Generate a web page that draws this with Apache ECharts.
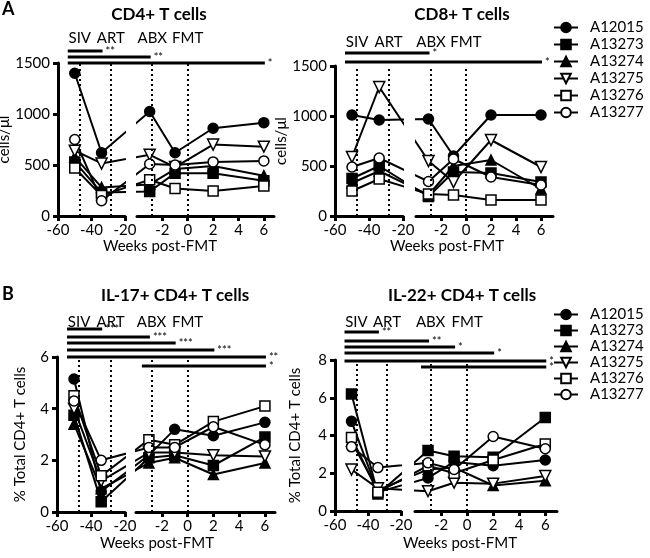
<!DOCTYPE html>
<html>
<head>
<meta charset="utf-8">
<script src="https://cdn.jsdelivr.net/npm/echarts@6/dist/echarts.min.js"></script>
<style>body{margin:0;background:#fff;}</style>
</head>
<body>
<div id="main" style="width:650px;height:558px;"></div>
<script type="text/javascript">
var weeks = [-50, -34, -3, -1, 2, 6];
var animals = ['A12015', 'A13273', 'A13274', 'A13275', 'A13276', 'A13277'];
var phaseNames = ['SIV', 'ART', 'ABX', 'FMT'];
var phaseWeeks = [-47, -28.5, -2.8, 0];
var leftTicks = [-60, -40, -20];
var rightTicks = [-2, 0, 2, 4, 6];

// one row per animal, one column per week
var cd4Counts = [
	[1400, 620, 1025, 620, 860, 915],
	[530, 230, 240, 420, 420, 345],
	[580, 280, 310, 460, 490, 395],
	[640, 515, 600, 480, 700, 680],
	[470, 200, 355, 270, 245, 295],
	[750, 150, 510, 500, 530, 540]
];
var cd8Counts = [
	[1010, 960, 970, 600, 1010, 1010],
	[375, 500, 195, 440, 430, 340],
	[330, 450, 210, 500, 560, 270],
	[590, 1290, 550, 340, 760, 490],
	[250, 370, 220, 210, 160, 160],
	[490, 580, 345, 570, 390, 310]
];
var il17Pct = [
	[5.15, 0.8, 2.2, 3.2, 2.95, 3.47],
	[3.75, 0.4, 2.1, 2.2, 1.8, 2.9],
	[3.4, 0.9, 1.9, 2.1, 1.45, 1.9],
	[4.0, 1.2, 2.3, 2.3, 2.2, 2.15],
	[4.5, 1.4, 2.8, 2.6, 3.5, 4.1],
	[4.3, 2.0, 2.5, 2.5, 3.3, 2.6]
];
var il22Pct = [
	[4.75, 1.0, 1.75, 2.6, 2.4, 2.7],
	[6.2, 0.9, 3.2, 2.9, 2.85, 4.95],
	[3.7, 1.1, 2.2, 2.3, 1.35, 1.6],
	[2.2, 1.2, 1.05, 1.5, 1.45, 1.85],
	[3.9, 1.0, 2.4, 2.0, 2.7, 3.55],
	[3.4, 2.3, 2.55, 2.2, 3.95, 3.3]
];

// significance bars: [from week, to week, stars]
var cd4Sig = [[-50, -34, '**'], [-50, -3, '**'], [-50, 6, '*']];
var cd8Sig = [[-50, -3, '*'], [-50, 6, '*']];
var il17Sig = [[-50, -34, '***'], [-50, -3, '***'], [-50, -1, '***'], [-50, 2, '***'], [-50, 6, '**'], [-3, 6, '*']];
var il22Sig = [[-50, -34, '**'], [-50, -3, '**'], [-50, -1, '*'], [-50, 2, '*'], [-50, 6, '*'], [-3, 6, '*']];

var symbols = ['circle', 'rect', 'triangle', 'path://M0,0L10,0L5,9Z', 'rect', 'circle'];
var filled = [true, true, true, false, false, false];
var font = 'Lato';

var panels = [
	{title: 'CD4+ T cells', yName: 'cells/μl', values: cd4Counts, sig: cd4Sig, yMax: 1500, yStep: 500,
	 left: 58, lw: 67, rl: 137, rw: 137, rMax: 6.8, top: 63, h: 153, nameGap: 40,
	 sigOff: [12, 6, 0], phaseDist: 17, titleX: 159, titleY: 6, weeksX: 160, weeksY: 239},
	{title: 'CD8+ T cells', yName: 'cells/μl', values: cd8Counts, sig: cd8Sig, yMax: 1500, yStep: 500,
	 left: 335, lw: 68, rl: 416, rw: 137, rMax: 6.96, top: 66, h: 150, nameGap: 40,
	 sigOff: [13, 4], phaseDist: 16, titleX: 462, titleY: 6, weeksX: 447, weeksY: 239},
	{title: 'IL-17+ CD4+ T cells', yName: '% Total CD4+ T cells', values: il17Pct, sig: il17Sig, yMax: 6, yStep: 2,
	 left: 57, lw: 68, rl: 136, rw: 139, rMax: 6.78, top: 357, h: 155, nameGap: 29,
	 sigOff: [28, 20, 14, 7, 0, -9], phaseDist: 27, titleX: 175, titleY: 287, weeksX: 157, weeksY: 536},
	{title: 'IL-22+ CD4+ T cells', yName: '% Total CD4+ T cells', values: il22Pct, sig: il22Sig, yMax: 8, yStep: 2,
	 left: 335, lw: 66, rl: 415, rw: 142, rMax: 6.9, top: 360, h: 151, nameGap: 32,
	 sigOff: [28, 19, 13, 7, -1, -7], phaseDist: 30, titleX: 462, titleY: 287, weeksX: 460, weeksY: 536}
];

var axisLine = {show: true, onZero: false, lineStyle: {color: '#000', width: 3}};
var axisTick = {show: true, length: 5, lineStyle: {color: '#000', width: 3}};

var grids = [], xAxes = [], yAxes = [], series = [];
var titles = [
	{text: 'A', left: 2, top: 0, padding: 0, textStyle: {fontSize: 18, fontWeight: 'bold', color: '#000', fontFamily: font}},
	{text: 'B', left: 2, top: 285, padding: 0, textStyle: {fontSize: 18, fontWeight: 'bold', color: '#000', fontFamily: font}}
];

panels.forEach(function (p) {
	var g = grids.length;
	var fullW = p.rl + p.rw - p.left;
	grids.push({left: p.left, top: p.top, width: p.lw, height: p.h, outerBoundsMode: 'none'});
	grids.push({left: p.rl, top: p.top, width: p.rw, height: p.h, outerBoundsMode: 'none'});
	// overlay across both halves, for the significance bars
	grids.push({left: p.left, top: p.top, width: fullW, height: p.h, outerBoundsMode: 'none'});

	// broken x axis: week -> pixel, then pixel -> units of each half
	function px(x) {
		return x <= -20 ? p.left + (x + 60) / 40 * p.lw : p.rl + (x + 4) / (p.rMax + 4) * p.rw;
	}
	function toL(P) { return -60 + (P - p.left) / p.lw * 40; }
	function toR(P) { return -4 + (P - p.rl) / p.rw * (p.rMax + 4); }

	xAxes.push({gridIndex: g, type: 'value', min: -60, max: -20, interval: 20,
		axisLine: axisLine, axisTick: axisTick, splitLine: {show: false},
		axisLabel: {color: '#000', fontSize: 15, fontFamily: font, margin: 7}});
	xAxes.push({gridIndex: g + 1, type: 'value', min: -4, max: p.rMax,
		axisLine: axisLine, splitLine: {show: false},
		axisTick: {show: true, length: 5, lineStyle: {color: '#000', width: 3}, customValues: rightTicks},
		axisLabel: {color: '#000', fontSize: 15, fontFamily: font, margin: 7, customValues: rightTicks}});
	xAxes.push({gridIndex: g + 2, type: 'value', min: -60, max: toL(p.left + fullW), show: false, splitLine: {show: false}});

	yAxes.push({gridIndex: g, type: 'value', min: 0, max: p.yMax, interval: p.yStep,
		name: p.yName, nameLocation: 'middle', nameGap: p.nameGap,
		nameTextStyle: {color: '#000', fontSize: 15, fontFamily: font},
		axisLine: axisLine, axisTick: axisTick, splitLine: {show: false},
		axisLabel: {color: '#000', fontSize: 15, fontFamily: font, margin: 8,
			formatter: function (v) { return String(v); }}});
	yAxes.push({gridIndex: g + 1, type: 'value', min: 0, max: p.yMax, show: false, splitLine: {show: false}});
	yAxes.push({gridIndex: g + 2, type: 'value', min: 0, max: p.yMax, show: false, splitLine: {show: false}});

	animals.forEach(function (name, i) {
		var row = p.values[i];
		[0, 1].forEach(function (side) {
			var s = {
				name: name, type: 'line', xAxisIndex: g + side, yAxisIndex: g + side,
				clip: true, symbol: symbols[i], symbolSize: i === 3 ? 11 : 10,
				itemStyle: {color: filled[i] ? '#000' : '#fff', borderColor: '#000', borderWidth: 1.5},
				lineStyle: {color: '#000', width: 2},
				data: weeks.map(function (w, j) {
					return [side === 0 ? toL(px(w)) : toR(px(w)), row[j]];
				})
			};
			if (i === 0) {
				var idx = side === 0 ? [0, 1] : [2, 3];
				s.markLine = {
					silent: true, symbol: 'none', animation: false,
					lineStyle: {color: '#000', width: 2, type: [2, 3]},
					label: {show: true, position: 'end', distance: p.phaseDist, formatter: '{b}',
						color: '#000', fontSize: 15, fontFamily: font},
					data: idx.map(function (k) { return {name: phaseNames[k], xAxis: phaseWeeks[k]}; })
				};
			}
			series.push(s);
		});
	});

	p.sig.forEach(function (b, i) {
		var v = p.yMax * (1 + p.sigOff[i] / p.h);
		series.push({
			type: 'line', xAxisIndex: g + 2, yAxisIndex: g + 2, clip: false, symbol: 'none', silent: true,
			lineStyle: {color: '#000', width: 3},
			endLabel: {show: true, formatter: b[2], color: '#000', fontSize: 11, distance: 3, fontFamily: font},
			data: [[toL(px(b[0]) - 7), v], [toL(px(b[1]) + 1), v]]
		});
	});

	titles.push({text: p.title, left: p.titleX, top: p.titleY, textAlign: 'center', padding: 0,
		textStyle: {fontSize: 17, fontWeight: 'bold', color: '#000', fontFamily: font}});
	titles.push({text: 'Weeks post-FMT', left: p.weeksX, top: p.weeksY, textAlign: 'center', padding: 0,
		textStyle: {fontSize: 15, fontWeight: 'normal', color: '#000', fontFamily: font}});
});

function legendAt(top, gap) {
	return {
		data: animals, orient: 'vertical', left: 553, top: top, itemWidth: 24, itemHeight: 12,
		itemGap: gap, selectedMode: false, padding: 0,
		textStyle: {color: '#000', fontSize: 15, fontFamily: font, padding: [0, 0, 0, 7]}
	};
}

var chart = echarts.init(document.getElementById('main'));
chart.setOption({
	animation: false,
	textStyle: {fontFamily: font},
	title: titles,
	legend: [legendAt(20, 2), legendAt(307, 1)],
	grid: grids,
	xAxis: xAxes,
	yAxis: yAxes,
	series: series
});
</script>
</body>
</html>
